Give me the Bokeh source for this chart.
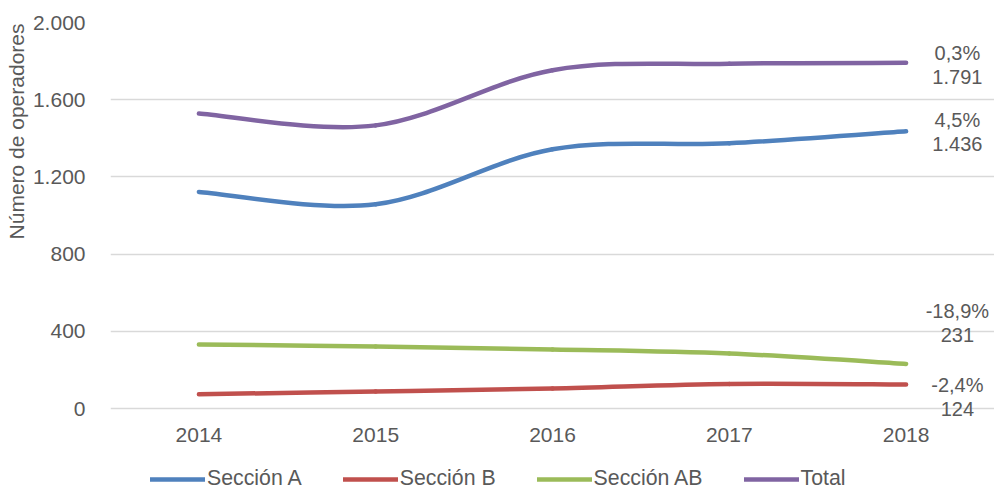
import numpy as np
from bokeh.plotting import figure
from bokeh.models import FixedTicker, Legend, LegendItem, Title, ColumnDataSource
from bokeh.core.properties import value
from bokeh.embed import file_html
from bokeh.resources import INLINE

# ---- data -------------------------------------------------------------
years = [2014, 2015, 2016, 2017, 2018]
seccion_a = [1122, 1058, 1343, 1374, 1436]
seccion_b = [74, 88, 104, 127, 124]
seccion_ab = [332, 321, 306, 285, 231]
total = [1528, 1467, 1753, 1786, 1791]

series_names = ["Sección A", "Sección B", "Sección AB", "Total"]
series_values = [seccion_a, seccion_b, seccion_ab, total]
series_colors = ["#4F81BD", "#C0504D", "#9BBB59", "#8064A2"]
growth_labels = ["4,5%", "-2,4%", "-18,9%", "0,3%"]

y_ticks = [0, 400, 800, 1200, 1600, 2000]
y_tick_labels = ["0", "400", "800", "1.200", "1.600", "2.000"]
x_tick_labels = ["2014", "2015", "2016", "2017", "2018"]

FONT = "Liberation Sans"
TEXT_COLOR = "#595959"
GRID_COLOR = "#D9D9D9"

# The plotting frame runs down to the bottom edge so that the year labels,
# the lowest value label and the legend all sit inside it.
p = figure(width=994, height=491, output_backend="svg", toolbar_location=None,
           x_range=(2013.5, 2018.5), y_range=(-430, 2000),
           x_axis_location=None,
           min_border_left=110, min_border_right=0, min_border_top=22,
           min_border_bottom=0)
p.outline_line_color = None
p.background_fill_color = "white"
p.border_fill_color = "white"

p.yaxis.ticker = FixedTicker(ticks=y_ticks)
p.yaxis.major_label_overrides = {t: s for t, s in zip(y_ticks, y_tick_labels)}
p.yaxis.axis_line_color = None
p.yaxis.major_tick_line_color = None
p.yaxis.minor_tick_line_color = None
p.yaxis.major_label_standoff = 19
p.yaxis.major_label_text_font = FONT
p.yaxis.major_label_text_font_size = "21px"
p.yaxis.major_label_text_color = TEXT_COLOR

p.xgrid.grid_line_color = None
p.ygrid.grid_line_color = GRID_COLOR
p.ygrid.grid_line_width = 1.5

# y-axis title, anchored near the top of the value axis
p.add_layout(Title(text="Número de operadores", align="right", offset=1,
                   text_font=FONT, text_font_size="21px", text_font_style="normal",
                   text_color=TEXT_COLOR, standoff=4), "left")

# category labels under the zero line
p.text(x=years, y=[0] * len(years), text=x_tick_labels, y_offset=26,
       text_align="center", text_baseline="middle",
       text_font=value(FONT), text_font_size="21px", text_color=TEXT_COLOR)


def smooth_segments(xs, ys):
    """Cubic Bezier segments through the points (Catmull-Rom style control points)."""
    x = np.asarray(xs, dtype=float)
    y = np.asarray(ys, dtype=float)
    n = len(x)
    seg = dict(x0=[], y0=[], x1=[], y1=[], cx0=[], cy0=[], cx1=[], cy1=[])
    for i in range(n - 1):
        a = i - 1 if i > 0 else i
        d = i + 2 if i + 2 < n else i + 1
        seg["x0"].append(x[i]); seg["y0"].append(y[i])
        seg["x1"].append(x[i + 1]); seg["y1"].append(y[i + 1])
        seg["cx0"].append(x[i] + (x[i + 1] - x[a]) / 6)
        seg["cy0"].append(y[i] + (y[i + 1] - y[a]) / 6)
        seg["cx1"].append(x[i + 1] - (x[d] - x[i]) / 6)
        seg["cy1"].append(y[i + 1] - (y[d] - y[i]) / 6)
    return seg


items = []
for name, vals, color in zip(series_names, series_values, series_colors):
    src = ColumnDataSource(smooth_segments(years, vals))
    r = p.bezier(x0="x0", y0="y0", x1="x1", y1="y1", cx0="cx0", cy0="cy0",
                 cx1="cx1", cy1="cy1", source=src, line_color=color,
                 line_width=4.5, line_cap="round")
    items.append(LegendItem(label=name, renderers=[r]))

# end-of-line annotations: growth rate above, last value below
label_offsets = {
    "Sección A": (-11, 13),
    "Sección B": (0, 24),
    "Sección AB": (-53, -29),
    "Total": (-10, 14),
}
for name, vals, growth in zip(series_names, series_values, growth_labels):
    last = vals[-1]
    off_g, off_v = label_offsets[name]
    value_text = f"{last:,}".replace(",", ".")
    for txt, off in ((growth, off_g), (value_text, off_v)):
        p.text(x=[years[-1] + 0.29], y=[last], text=[txt], y_offset=off,
               text_align="center", text_baseline="middle",
               text_font=value(FONT), text_font_size="20px", text_color=TEXT_COLOR)

legend = Legend(items=items, orientation="horizontal", location=(40, 0),
                padding=0, margin=0, spacing=41, glyph_width=55, glyph_height=20,
                label_standoff=2, label_height=20,
                label_text_font=FONT, label_text_font_size="21.3px",
                label_text_color=TEXT_COLOR,
                border_line_alpha=0, background_fill_alpha=0)
p.add_layout(legend)

open("out.html", "w").write(file_html(p, INLINE))
